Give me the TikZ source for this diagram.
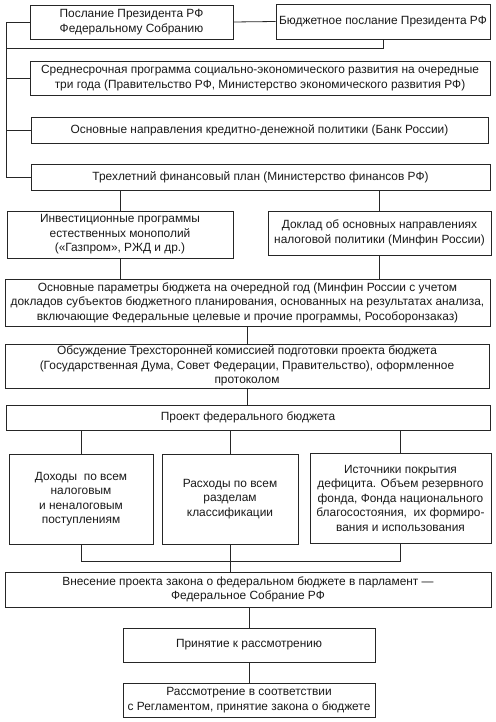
\documentclass[tikz,border=0pt]{standalone}
\usepackage{fontspec}
\setmainfont{Liberation Sans}
\begin{document}
\begin{tikzpicture}[x=1pt,y=-1pt,
  every node/.style={font=\fontsize{11.9}{14.5}\selectfont, text=black!90},
  box/.style={draw=black!85, line width=0.8pt, rectangle, inner sep=0pt, align=center},
  conn/.style={draw=black!85, line width=0.8pt}]
\useasboundingbox (0,0) rectangle (495,722);
\node[box, minimum width=203pt, minimum height=34pt] (b1) at (131.5,22) {Послание Президента РФ\\Федеральному Собранию};
\node[box, minimum width=214pt, minimum height=35pt] (b2) at (383,21.5) {Бюджетное послание Президента РФ};
\node[box, minimum width=460pt, minimum height=34pt] (b3) at (260,78) {Среднесрочная программа социально-экономического развития на очередные\\три года (Правительство РФ, Министерство экономического развития РФ)};
\node[box, minimum width=457pt, minimum height=26pt] (b4) at (259.5,130) {Основные направления кредитно-денежной политики (Банк России)};
\node[box, minimum width=459pt, minimum height=26pt] (b5) at (260.5,177) {Трехлетний финансовый план (Министерство финансов РФ)};
\node[box, minimum width=226pt, minimum height=47pt] (inv) at (120,234.5) {Инвестиционные программы\\естественных монополий\\(«Газпром», РЖД и др.)};
\node[box, minimum width=223pt, minimum height=44pt] (dok) at (379.5,233) {Доклад об основных направлениях\\налоговой политики (Минфин России)};
\node[box, minimum width=485pt, minimum height=47pt] (par) at (247.5,302.5) {Основные параметры бюджета на очередной год (Минфин России с учетом\\докладов субъектов бюджетного планирования, основанных на результатах анализа,\\включающие Федеральные целевые и прочие программы, Рособоронзаказ)};
\node[box, minimum width=484pt, minimum height=44pt] (obs) at (247,366) {Обсуждение Трехсторонней комиссией подготовки проекта бюджета\\(Государственная Дума, Совет Федерации, Правительство), оформленное\\протоколом};
\node[box, minimum width=484pt, minimum height=25pt] (pro) at (248,417.5) {Проект федерального бюджета};
\node[box, minimum width=144pt, minimum height=90pt] (doh) at (81,499) {Доходы\ \ по всем\\налоговым\\и неналоговым\\поступлениям};
\node[box, minimum width=136pt, minimum height=90pt] (ras) at (230,499) {Расходы по всем\\разделам\\классификации};
\node[box, minimum width=181pt, minimum height=90pt] (ist) at (400.5,498) {Источники покрытия\\дефицита. Объем резервного\\фонда, Фонда национального\\благосостояния,\ \ их формиро-\\вания и использования};
\node[box, minimum width=486pt, minimum height=35pt] (vne) at (248,589.5) {Внесение проекта закона о федеральном бюджете в парламент —\\Федеральное Собрание РФ};
\node[box, minimum width=252pt, minimum height=34pt] (pri) at (249,645) {Принятие к рассмотрению};
\node[box, minimum width=252pt, minimum height=34pt] (rsm) at (249,700) {Рассмотрение в соответствии\\с Регламентом, принятие закона о бюджете};
% connectors
\coordinate (bus) at (6,0);
\coordinate (hb) at (6,48);
\draw[conn] (b1.west) -| (bus |- b5.west) -- (b5.west);
\draw[conn] (b3.west) -- (bus |- b3.west);
\draw[conn] (b4.west) -- (bus |- b4.west);
\draw[conn] (b1.east) -- (b2.west);
\draw[conn] (b2.south) |- (hb);
\draw[conn] (b5.south -| inv.north) -- (inv.north);
\draw[conn] (b5.south -| dok.north) -- (dok.north);
\draw[conn] (inv.south) -- (inv.south |- par.north);
\draw[conn] (dok.south) -- (dok.south |- par.north);
\draw[conn] (par.south) -- (par.south |- obs.north);
\draw[conn] (obs.south) -- (obs.south |- pro.north);
\draw[conn] (pro.south -| doh.north) -- (doh.north);
\draw[conn] (pro.south -| ras.north) -- (ras.north);
\draw[conn] (pro.south -| ist.north) -- (ist.north);
\draw[conn] (doh.south) -- ++(0,17) -| (ist.south);
\draw[conn] (ras.south) -- (ras.south |- vne.north);
\draw[conn] (vne.south -| pri.north) -- (pri.north);
\draw[conn] (pri.south) -- (rsm.north);
\end{tikzpicture}
\end{document}
